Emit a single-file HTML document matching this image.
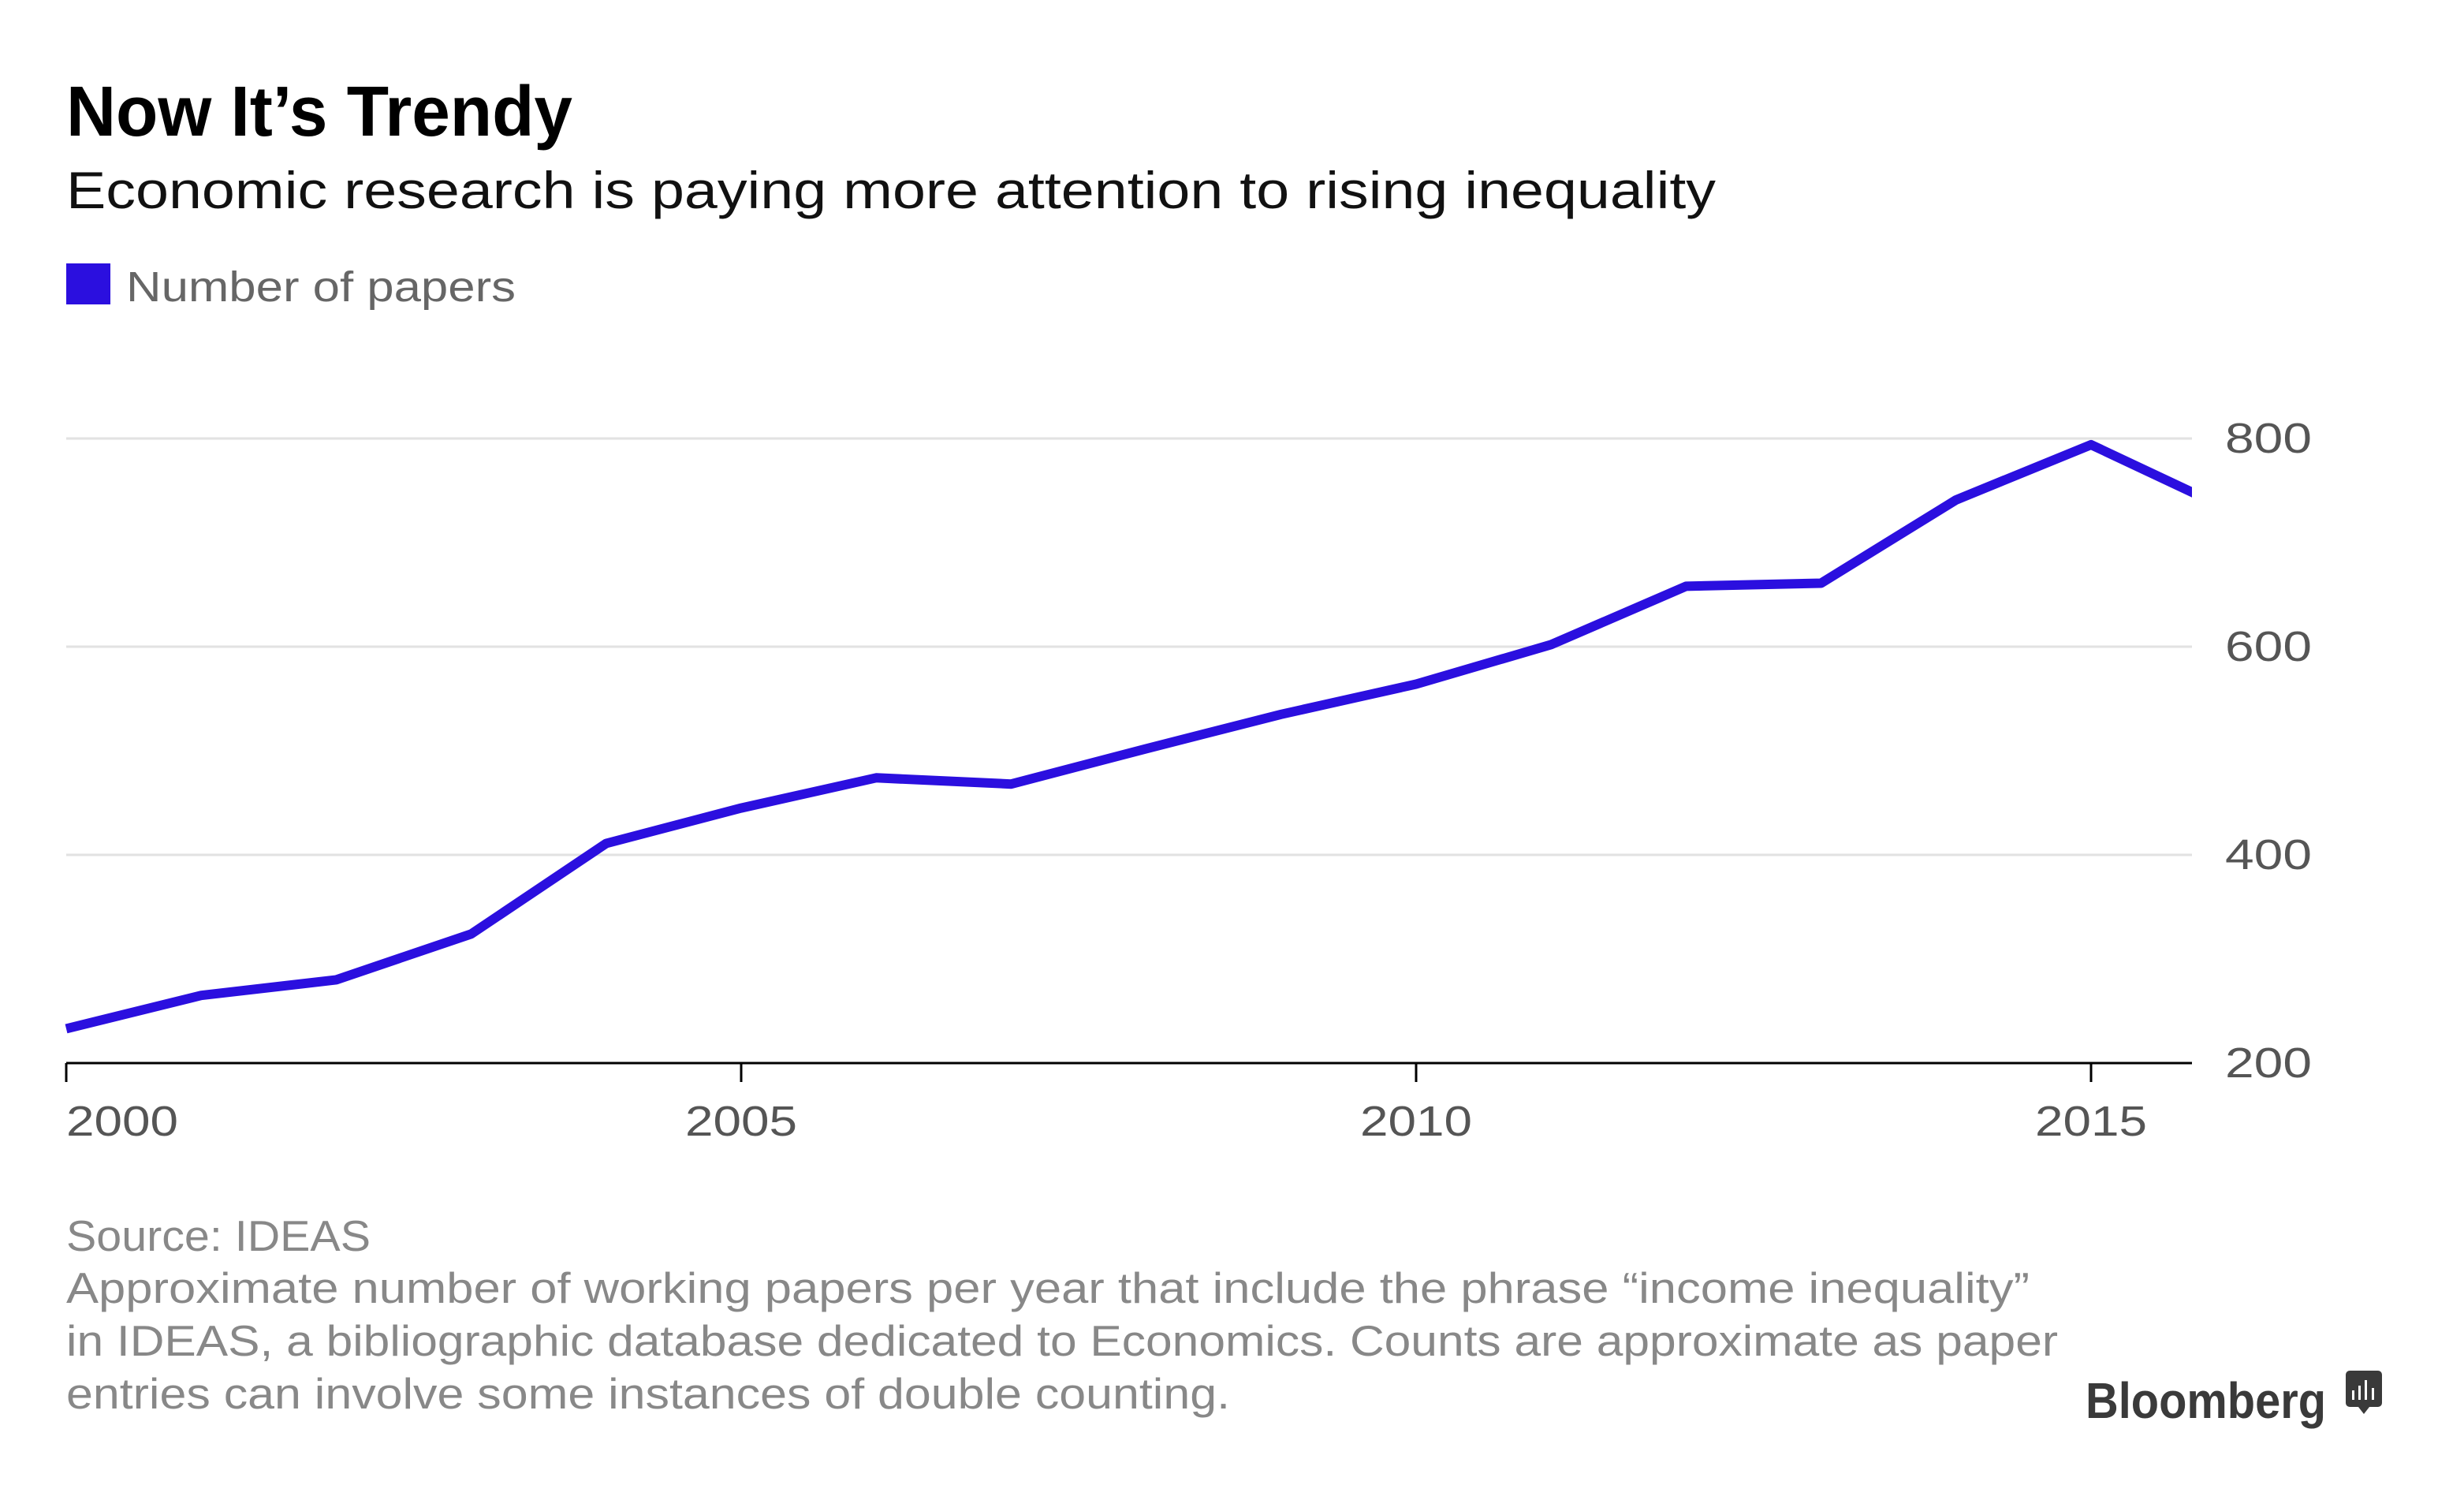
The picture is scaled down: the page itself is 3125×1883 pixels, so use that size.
<!DOCTYPE html>
<html><head><meta charset="utf-8"><style>
html,body{margin:0;padding:0;background:#fff;}
svg{display:block;font-family:"Liberation Sans",Arial,sans-serif;}
</style></head><body>
<svg id="chart" width="3125" height="1883" viewBox="0 0 3125 1883" xmlns="http://www.w3.org/2000/svg">
<text x="84" y="172" font-size="90" font-weight="bold" fill="#000" textLength="642" lengthAdjust="spacingAndGlyphs">Now It’s Trendy</text>
<text x="84" y="264" font-size="66" fill="#111" textLength="2092" lengthAdjust="spacingAndGlyphs">Economic research is paying more attention to rising inequality</text>
<rect x="84" y="334" width="56" height="52" fill="#2b0fdf"/>
<text x="160" y="382" font-size="54" fill="#666" textLength="494" lengthAdjust="spacingAndGlyphs">Number of papers</text>
<g id="grid"></g>
<g id="axes"></g>
<defs><clipPath id="clip"><rect x="0" y="400" width="2780" height="1000"/></clipPath></defs>
<g id="series" clip-path="url(#clip)"></g>
<text x="84" y="1586" font-size="55" fill="#888" textLength="386" lengthAdjust="spacingAndGlyphs">Source: IDEAS</text>
<text x="84" y="1652" font-size="55" fill="#888" textLength="2490" lengthAdjust="spacingAndGlyphs">Approximate number of working papers per year that include the phrase “income inequality”</text>
<text x="84" y="1719" font-size="55" fill="#888" textLength="2526" lengthAdjust="spacingAndGlyphs">in IDEAS, a bibliographic database dedicated to Economics. Counts are approximate as paper</text>
<text x="84" y="1786" font-size="55" fill="#888" textLength="1476" lengthAdjust="spacingAndGlyphs">entries can involve some instances of double counting.</text>
<text x="2645" y="1798" font-size="64" font-weight="bold" fill="#3a3a3a" textLength="305" lengthAdjust="spacingAndGlyphs">Bloomberg</text>
<g>
<rect x="2975" y="1738" width="46" height="46" rx="5" fill="#3a3a3a"/>
<polygon points="2991,1784 3005,1784 2998,1793" fill="#3a3a3a"/>
<rect x="2983" y="1763" width="3" height="12" fill="#fff"/>
<rect x="2991" y="1757" width="3" height="18" fill="#fff"/>
<rect x="2999" y="1750" width="3" height="25" fill="#fff"/>
<rect x="3008" y="1760" width="3" height="15" fill="#fff"/>
</g>
</svg>
<script>
const years=[2000,2001,2002,2003,2004,2005,2006,2007,2008,2009,2010,2011,2012,2013,2014,2015,2016];
const papers=[233,265,280,324,411,445,474,468,502,535,564,602,658,661,741,794,733];
const yTicks=[200,400,600,800];
const xTicks=[2000,2005,2010,2015];
const NS="http://www.w3.org/2000/svg";
const X=y=>84+(y-2000)*171.2;
const Y=v=>1348-(v-200)*(792/600);
const grid=document.getElementById('grid'),axes=document.getElementById('axes'),series=document.getElementById('series');
function mk(tag,attrs,parent){const e=document.createElementNS(NS,tag);for(const k in attrs)e.setAttribute(k,attrs[k]);parent.appendChild(e);return e;}
yTicks.forEach(v=>{
  if(v>200){const l=mk('line',{x1:84,x2:2780,y1:Y(v),y2:Y(v),stroke:'#e2e2e2','stroke-width':3},grid);
  
  }
  const t=mk('text',{x:2822,y:Y(v)+18,'font-size':54,fill:'#555',textLength:110,lengthAdjust:'spacingAndGlyphs'},axes);t.textContent=v;
  
  
});
const ax=mk('line',{x1:84,x2:2780,y1:1348,y2:1348,stroke:'#000','stroke-width':3},axes);


xTicks.forEach(yr=>{
  const tk=mk('line',{x1:X(yr),x2:X(yr),y1:1348,y2:1372,stroke:'#000','stroke-width':3},axes);
  
  
  const t=mk('text',{x:yr===2000?84:X(yr),y:1440,'font-size':54,fill:'#555','text-anchor':yr===2000?'start':'middle',textLength:142,lengthAdjust:'spacingAndGlyphs'},axes);t.textContent=yr;
  
  
});
const d=years.map((yr,i)=>(i?'L':'M')+X(yr).toFixed(1)+','+Y(papers[i]).toFixed(1)).join(' ');
const p=mk('path',{d:d,fill:'none',stroke:'#2b0fdf','stroke-width':12,'stroke-linejoin':'round'},series);


</script>
</body></html>
